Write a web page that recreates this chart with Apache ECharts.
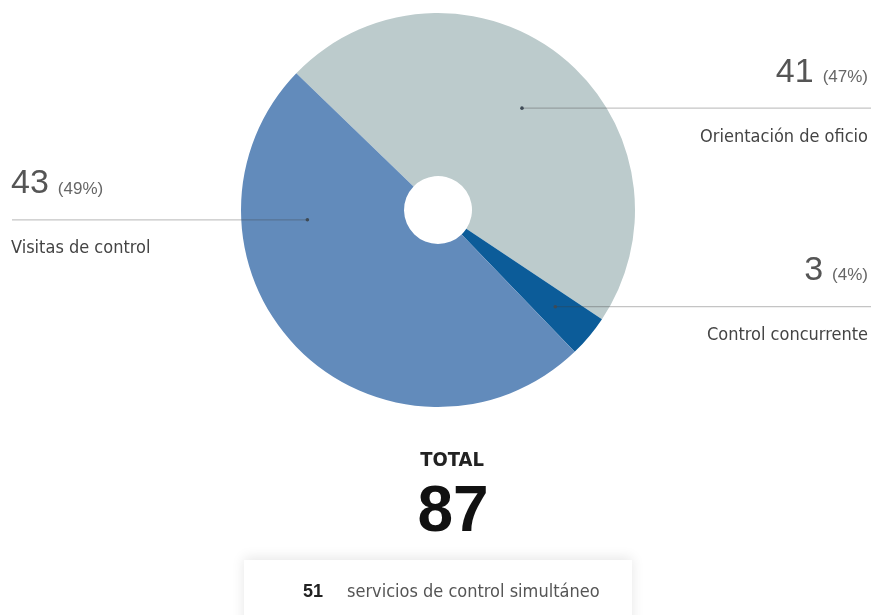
<!DOCTYPE html>
<html>
<head>
<meta charset="utf-8">
<script src="https://cdn.jsdelivr.net/npm/echarts@6/dist/echarts.min.js"></script>
<style>
html,body{margin:0;padding:0;background:#fff;}
#c{width:875px;height:615px;}
</style>
</head>
<body>
<div id="c"></div>
<script>
// ---- data ----
const categories = ['Orientación de oficio', 'Control concurrente', 'Visitas de control'];
const values = [41, 3, 43];
const percentLabels = ['47%', '4%', '49%'];
const simultaneousCount = 51;
const simultaneousLabel = 'servicios de control simultáneo';
const totalLabel = 'TOTAL';

// ---- layout / style ----
const colors = ['#bccbcc', '#0c5c99', '#628bbb'];
const CX = 438, CY = 210, R = 197, R0 = 34;
const START = 136;
// label anchors: angle (deg, math convention) & radius of the dot, side of label
const anchors = [
  {ang: 50.5, r: 132, side: 'right'},
  {ang: -39.5, r: 152, side: 'right'},
  {ang: 184.3, r: 131, side: 'left'}
];
const RIGHT_X = 868, RIGHT_LINE_X = 871, LEFT_X = 11, LEFT_LINE_X = 12;
const condensed = '"Liberation Sans Narrow","DejaVu Sans Condensed","Roboto Condensed",sans-serif';
const sans = '"Liberation Sans",Arial,Helvetica,sans-serif';

function dotPos(i) {
  const a = anchors[i];
  const rad = a.ang * Math.PI / 180;
  return [CX + a.r * Math.cos(rad), CY - a.r * Math.sin(rad)];
}

const total = values.reduce((s, v) => s + v, 0);
const chart = echarts.init(document.getElementById('c'), null, {renderer: 'canvas'});

const guides = [];
categories.forEach((_, i) => {
  const p = dotPos(i);
  const endX = anchors[i].side === 'right' ? RIGHT_LINE_X : LEFT_LINE_X;
  guides.push({type: 'polyline', shape: {points: [[p[0], p[1]], [endX, p[1]]]},
    style: {stroke: 'rgba(60,60,60,0.30)', lineWidth: 1.2, fill: null}, z: 90, silent: true});
  guides.push({type: 'circle', shape: {cx: p[0], cy: p[1], r: 1.8},
    style: {fill: '#3e4a55'}, z: 100, silent: true});
});

chart.setOption({
  animation: false,
  title: [
    {text: totalLabel, left: 447, top: 446, textAlign: 'center',
     textStyle: {fontFamily: condensed, fontSize: 20, fontWeight: 'bold', color: '#222'}},
    {text: String(total), left: 448, top: 476, textAlign: 'center',
     textStyle: {fontFamily: sans, fontSize: 64, fontWeight: 'bold', color: '#111'}},
    {text: '{b|' + simultaneousCount + '}{n|' + simultaneousLabel + '}', left: 298, top: 578,
     textStyle: {fontWeight: 'normal', rich: {
       b: {fontFamily: sans, fontSize: 18, fontWeight: 'bold', color: '#222'},
       n: {fontFamily: condensed, fontSize: 18, fontWeight: 'normal', color: '#555', padding: [0, 0, 0, 24]}
     }}}
  ],
  graphic: [
    {type: 'rect', shape: {x: 244, y: 560, width: 388, height: 70},
     style: {fill: '#fff', shadowBlur: 12, shadowColor: 'rgba(0,0,0,0.10)', shadowOffsetY: -2}, z: -10}
  ].concat(guides),
  series: [{
    type: 'pie',
    center: [CX, CY],
    radius: [R0, R],
    startAngle: START,
    clockwise: true,
    avoidLabelOverlap: false,
    color: colors,
    data: categories.map((n, i) => ({name: n, value: values[i]})),
    itemStyle: {borderWidth: 0},
    emphasis: {disabled: true},
    label: {
      show: true,
      position: 'outside',
      formatter: p => '{v|' + p.value + '}{p|(' + percentLabels[p.dataIndex] + ')}\n{s|}\n{n|' + p.name + '}',
      rich: {
        v: {fontFamily: sans, fontSize: 34, color: '#555', lineHeight: 36},
        p: {fontFamily: sans, fontSize: 17, color: '#666', lineHeight: 36, padding: [10, 0, 0, 9]},
        s: {fontSize: 10, lineHeight: 36},
        n: {fontFamily: condensed, fontSize: 18, color: '#444', lineHeight: 22}
      }
    },
    labelLine: {show: false},
    labelLayout: function (params) {
      const i = params.dataIndex;
      const d = dotPos(i);
      const y = d[1] - 54;
      if (anchors[i].side === 'right') {
        return {x: RIGHT_X, y: y, align: 'right', verticalAlign: 'top'};
      }
      return {x: LEFT_X, y: y, align: 'left', verticalAlign: 'top'};
    }
  }]
});
</script>
</body>
</html>
